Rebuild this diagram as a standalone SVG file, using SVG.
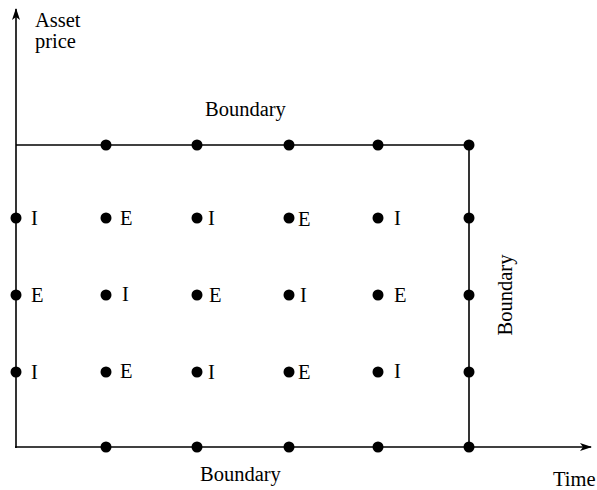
<svg xmlns="http://www.w3.org/2000/svg" width="597" height="490" viewBox="0 0 597 490">
<defs>
<marker id="arr" markerWidth="12" markerHeight="8" refX="11" refY="4" orient="auto" markerUnits="userSpaceOnUse">
<path d="M0,0 L12,4 L0,8 L3,4 Z" fill="#000"/>
</marker>
<style>
.ln{stroke:#000;stroke-width:1.6;fill:none}
.d{fill:#000}
text{font-family:"Liberation Serif","Times New Roman",serif;font-size:20.5px;fill:#000}
</style>
</defs>
<g id="connectors">
<line class="ln" x1="16" y1="448" x2="16" y2="9" marker-end="url(#arr)"/>
<line class="ln" x1="15" y1="447" x2="591" y2="447" marker-end="url(#arr)"/>
<line class="ln" x1="16" y1="145" x2="469" y2="145"/>
<line class="ln" x1="469" y1="145" x2="469" y2="447"/>
</g>
<g id="axis-labels">
<text x="35" y="27">Asset</text>
<text x="35" y="48">price</text>
<text x="553" y="486">Time</text>
<text x="205" y="116">Boundary</text>
<text x="200" y="481">Boundary</text>
<text transform="translate(512,295) rotate(-90)" text-anchor="middle">Boundary</text>
</g>
<g id="top-boundary">
<circle class="d" cx="106" cy="145" r="5.5"/><circle class="d" cx="197" cy="145" r="5.5"/><circle class="d" cx="289" cy="145" r="5.5"/><circle class="d" cx="378" cy="145" r="5.5"/><circle class="d" cx="469" cy="145" r="5.5"/>
</g>
<g id="bottom-boundary">
<circle class="d" cx="106" cy="447" r="5.5"/><circle class="d" cx="197" cy="447" r="5.5"/><circle class="d" cx="289" cy="447" r="5.5"/><circle class="d" cx="378" cy="447" r="5.5"/><circle class="d" cx="469" cy="447" r="5.5"/>
</g>
<g id="right-boundary">
<circle class="d" cx="469" cy="218" r="5.5"/><circle class="d" cx="469" cy="295" r="5.5"/><circle class="d" cx="469" cy="372" r="5.5"/>
</g>
<g id="row1">
<circle class="d" cx="16" cy="218" r="5.5"/><text x="31" y="225">I</text>
<circle class="d" cx="106" cy="218" r="5.5"/><text x="120" y="225">E</text>
<circle class="d" cx="197" cy="218" r="5.5"/><text x="208" y="225">I</text>
<circle class="d" cx="289" cy="218" r="5.5"/><text x="298" y="226">E</text>
<circle class="d" cx="378" cy="218" r="5.5"/><text x="394" y="225">I</text>
</g>
<g id="row2">
<circle class="d" cx="16" cy="295" r="5.5"/><text x="31" y="302">E</text>
<circle class="d" cx="106" cy="295" r="5.5"/><text x="122" y="301">I</text>
<circle class="d" cx="197" cy="295" r="5.5"/><text x="209" y="302">E</text>
<circle class="d" cx="289" cy="295" r="5.5"/><text x="300" y="302">I</text>
<circle class="d" cx="378" cy="295" r="5.5"/><text x="394" y="302">E</text>
</g>
<g id="row3">
<circle class="d" cx="16" cy="372" r="5.5"/><text x="31" y="379">I</text>
<circle class="d" cx="106" cy="372" r="5.5"/><text x="120" y="378">E</text>
<circle class="d" cx="197" cy="372" r="5.5"/><text x="208" y="379">I</text>
<circle class="d" cx="289" cy="372" r="5.5"/><text x="298" y="379">E</text>
<circle class="d" cx="378" cy="372" r="5.5"/><text x="394" y="378">I</text>
</g>
</svg>
